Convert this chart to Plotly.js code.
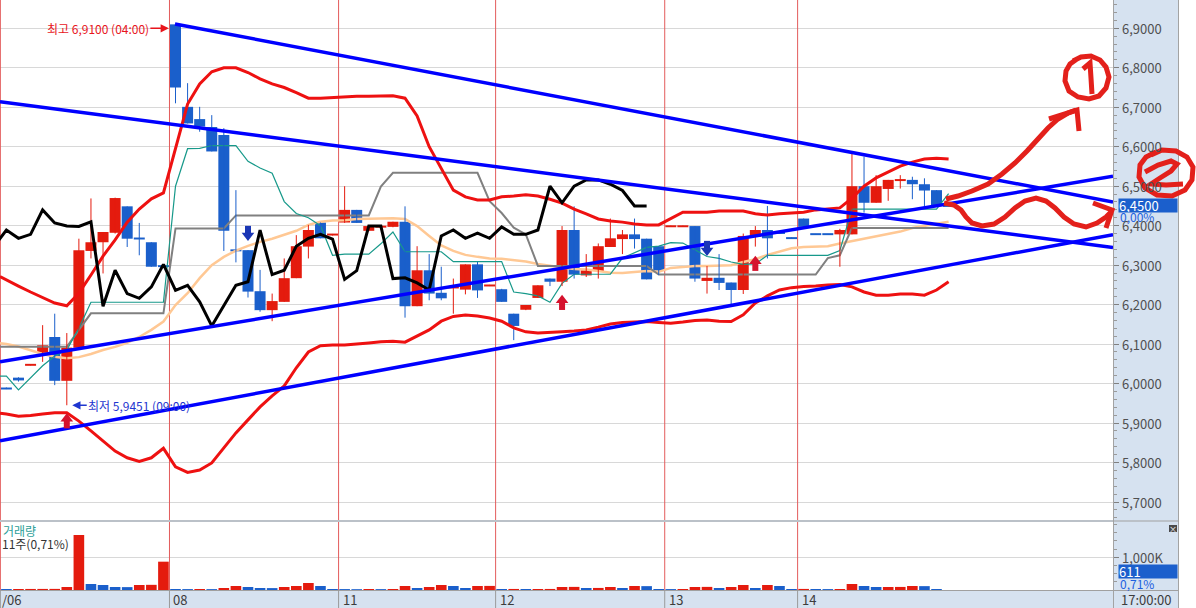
<!DOCTYPE html>
<html>
<head>
<meta charset="utf-8">
<script src="https://cdn.plot.ly/plotly-3.0.1.min.js"></script>
<style>
html,body{margin:0;padding:0;background:#ffffff;overflow:hidden;}
#chart{width:1196px;height:608px;}
</style>
</head>
<body>
<div id="chart"></div>
<script>
// ================= DATA =================
const openP  = [5.988,6.015,6.047,6.078,6.118,6.007,6.091,6.336,6.358,6.382,
                6.449,6.368,6.358,6.298,6.910,6.701,6.670,6.650,6.630,6.338,
                6.338,6.234,6.186,6.207,6.267,6.347,6.408,6.377,6.408,6.440,
                6.387,6.397,6.397,6.410,6.196,6.287,6.230,6.242,6.238,6.302,
                6.248,6.239,6.177,6.187,6.217,6.266,6.258,6.389,6.274,6.285,
                6.346,6.366,6.378,6.367,6.348,6.398,6.398,6.399,6.260,6.268,
                6.256,6.237,6.372,6.389,6.382,6.369,6.418,6.379,6.379,6.378,
                6.378,6.500,6.458,6.493,6.515,6.516,6.505,6.490,6.450];
const highP  = [5.990,6.016,6.049,6.148,6.177,6.128,6.367,6.469,6.384,6.471,
                6.449,6.407,6.358,6.299,6.910,6.761,6.701,6.680,6.647,6.490,
                6.338,6.288,6.228,6.317,6.376,6.402,6.408,6.379,6.500,6.440,
                6.400,6.399,6.410,6.449,6.348,6.328,6.296,6.266,6.302,6.308,
                6.250,6.240,6.177,6.199,6.249,6.266,6.399,6.449,6.328,6.355,
                6.418,6.389,6.418,6.367,6.348,6.400,6.400,6.399,6.298,6.328,
                6.256,6.380,6.399,6.450,6.383,6.370,6.418,6.379,6.379,6.392,
                6.587,6.575,6.528,6.516,6.528,6.524,6.520,6.490,6.451];
const lowP   = [5.986,6.005,6.046,6.055,5.996,5.9451,6.085,6.317,6.279,6.380,
                6.346,6.325,6.296,6.296,6.710,6.659,6.638,6.588,6.336,6.307,
                6.218,6.182,6.158,6.207,6.267,6.317,6.368,6.375,6.407,6.407,
                6.386,6.396,6.396,6.167,6.196,6.211,6.211,6.177,6.226,6.217,
                6.247,6.207,6.110,6.186,6.217,6.247,6.247,6.266,6.270,6.266,
                6.346,6.328,6.342,6.264,6.275,6.397,6.397,6.258,6.228,6.237,
                6.199,6.227,6.347,6.317,6.380,6.367,6.397,6.377,6.377,6.296,
                6.378,6.433,6.458,6.463,6.494,6.467,6.448,6.448,6.449];
const closeP = [5.987,6.008,6.048,6.097,6.007,6.091,6.338,6.358,6.384,6.470,
                6.367,6.367,6.296,6.297,6.750,6.659,6.651,6.588,6.387,6.337,
                6.233,6.186,6.209,6.267,6.348,6.389,6.368,6.378,6.440,6.407,
                6.399,6.398,6.410,6.196,6.287,6.228,6.216,6.245,6.302,6.236,
                6.249,6.207,6.146,6.199,6.249,6.258,6.389,6.276,6.287,6.348,
                6.368,6.378,6.366,6.264,6.286,6.399,6.399,6.266,6.268,6.255,
                6.237,6.374,6.389,6.368,6.381,6.368,6.397,6.378,6.378,6.389,
                6.500,6.458,6.500,6.516,6.516,6.505,6.489,6.450,6.450];
// volume, thousands
const volumeK = [30,31,32,33,34,92,1682,183,153,92,
                 88,153,158,866,31,28,30,27,61,122,
                 92,61,58,92,122,214,122,31,28,25,
                 30,27,31,122,61,92,153,122,61,122,
                 125,31,32,30,31,32,92,95,61,63,
                 92,61,122,118,31,28,31,92,95,61,
                 92,153,61,153,122,31,33,30,28,31,
                 183,122,92,92,94,122,118,30,0.611];

// indicator lines: first value = left edge of the chart, then one value per bar
const edgeX = -0.53;
const bbUpper = [6.271,
  6.262,6.247,6.232,6.219,6.204,6.197,6.229,6.275,6.323,6.364,
  6.409,6.442,6.468,6.483,6.592,6.708,6.759,6.790,6.800,6.800,
  6.788,6.772,6.759,6.750,6.737,6.723,6.723,6.725,6.727,6.728,
  6.728,6.729,6.729,6.723,6.678,6.600,6.546,6.490,6.473,6.465,
  6.465,6.473,6.475,6.478,6.475,6.467,6.457,6.442,6.430,6.417,
  6.412,6.409,6.404,6.402,6.402,6.419,6.434,6.434,6.434,6.437,
  6.437,6.437,6.430,6.427,6.430,6.432,6.434,6.440,6.442,6.445,
  6.470,6.500,6.521,6.536,6.551,6.561,6.569,6.571,6.569];
const bbLower = [5.925,
  5.923,5.917,5.919,5.923,5.926,5.926,5.905,5.880,5.855,5.829,
  5.812,5.803,5.812,5.836,5.789,5.775,5.781,5.799,5.837,5.875,
  5.908,5.941,5.969,5.994,6.040,6.080,6.096,6.098,6.098,6.100,
  6.103,6.106,6.107,6.105,6.120,6.136,6.158,6.170,6.174,6.171,
  6.166,6.158,6.141,6.131,6.128,6.129,6.131,6.133,6.136,6.143,
  6.151,6.155,6.156,6.157,6.155,6.153,6.156,6.160,6.161,6.158,
  6.157,6.174,6.204,6.222,6.237,6.243,6.246,6.247,6.250,6.251,
  6.245,6.232,6.224,6.224,6.227,6.227,6.224,6.237,6.258];
const ma20 = [6.102,
  6.100,6.094,6.085,6.075,6.068,6.064,6.067,6.075,6.085,6.093,
  6.103,6.118,6.136,6.157,6.199,6.229,6.267,6.300,6.321,6.337,
  6.349,6.359,6.367,6.378,6.387,6.402,6.410,6.413,6.414,6.417,
  6.418,6.419,6.419,6.417,6.399,6.374,6.350,6.336,6.326,6.321,
  6.317,6.316,6.313,6.309,6.303,6.298,6.294,6.290,6.289,6.285,
  6.281,6.280,6.283,6.285,6.283,6.293,6.295,6.298,6.298,6.299,
  6.300,6.308,6.315,6.326,6.335,6.343,6.346,6.347,6.348,6.355,
  6.361,6.366,6.373,6.379,6.385,6.394,6.400,6.405,6.410];
const baseLine = [6.093,
  6.093,6.093,6.093,6.093,6.093,6.093,6.136,6.178,6.178,6.178,
  6.178,6.178,6.178,6.178,6.393,6.393,6.393,6.393,6.393,6.426,
  6.426,6.426,6.426,6.426,6.426,6.426,6.426,6.426,6.426,6.426,
  6.426,6.499,6.534,6.534,6.534,6.534,6.534,6.534,6.534,6.534,
  6.462,6.432,6.395,6.378,6.298,6.298,6.298,6.298,6.298,6.298,
  6.298,6.298,6.298,6.298,6.276,6.276,6.276,6.276,6.276,6.276,
  6.276,6.276,6.276,6.276,6.276,6.276,6.276,6.276,6.318,6.325,
  6.394,6.394,6.394,6.394,6.394,6.394,6.394,6.394,6.394];
const convLine = [6.019,
  6.019,5.984,6.014,6.045,6.070,6.085,6.140,6.206,6.206,6.206,
  6.206,6.206,6.206,6.206,6.500,6.595,6.596,6.603,6.603,6.603,
  6.563,6.546,6.533,6.461,6.431,6.420,6.400,6.325,6.328,6.328,
  6.328,6.354,6.384,6.334,6.334,6.334,6.334,6.309,6.309,6.309,
  6.309,6.309,6.232,6.228,6.222,6.206,6.254,6.277,6.277,6.277,
  6.277,6.318,6.331,6.345,6.348,6.357,6.356,6.339,6.322,6.317,
  6.308,6.302,6.303,6.325,6.325,6.325,6.325,6.325,6.325,6.337,
  6.442,6.442,6.442,6.442,6.442,6.442,6.442,6.442,6.481];
// lagging span (closes plotted 25 bars back), starts at bar -1
const laggingStart = -1;
const laggingSpan = [6.348,6.389,6.368,6.378,6.440,6.407,6.399,6.398,6.410,6.196,
  6.287,6.228,6.216,6.245,6.302,6.236,6.249,6.207,6.146,6.199,
  6.249,6.258,6.389,6.276,6.287,6.348,6.368,6.378,6.366,6.264,
  6.286,6.399,6.399,6.266,6.268,6.255,6.237,6.374,6.389,6.368,
  6.381,6.368,6.397,6.378,6.378,6.389,6.500,6.458,6.500,6.516,
  6.516,6.505,6.489,6.450,6.450];

// user-drawn trend lines (bar index, price)
const trend1X = [13.96, 91.61], trend1Y = [6.911, 6.460];
const trend2X = [-0.53, 91.61], trend2Y = [6.714, 6.345];
const trend3X = [-0.53, 91.61], trend3Y = [6.055, 6.525];
const trend4X = [-0.53, 91.61], trend4Y = [5.855, 6.377];

// signal arrows
const signalBar = [5, 20, 46, 58, 62];
const signalDir = [1, -1, 1, -1, 1];
const signalTip = [5.927, 6.359, 6.227, 6.321, 6.326];

// day separators and labels
const dayBreaks = [-0.5, 13.5, 27.5, 40.5, 54.5, 65.5];
const dayLabels = ['/06', '08', '11', '12', '13', '14'];
const timeLabel = '17:00:00';

// axis ticks
const priceTicks = [5.7,5.8,5.9,6.0,6.1,6.2,6.3,6.4,6.5,6.6,6.7,6.8,6.9];
const priceTickText = ['5,7000','5,8000','5,9000','6,0000','6,1000','6,2000','6,3000',
                       '6,4000','6,5000','6,6000','6,7000','6,8000','6,9000'];
const priceMinorStep = 0.02;
const volTicks = [1000];
const volTickText = ['1,000K'];
const volMinorStep = 250;

const highText = '최고 6,9100 (04:00)';
const lowText = '최저 5,9451 (09:00)';
const volTitle = '거래량';
const volInfo = '11주(0,71%)';
const volLast = '611';
const volPct = '0,71%';

// hand-drawn red marks (picture pixels)
const stroke1 = [[946,199],[958,196],[972,191],[988,184],[1002,174],[1015,163],[1027,151],[1038,139],[1048,128],[1058,119],[1068,113],[1076,110]];
const stroke1Head = [[1049,119],[1077,110],[1079,131]];
const circle1 = [[1073,61],[1081,57],[1091,56],[1100,60],[1106,67],[1109,77],[1106,88],[1099,96],[1089,99],[1078,97],[1069,91],[1065,81],[1066,71],[1070,64],[1077,59]];
const digit1 = [[1083,69],[1090,63],[1091,78],[1092,94]];
const stroke2 = [[944,203],[954,205],[961,210],[966,217],[972,223],[982,226],[994,224],[1005,217],[1015,208],[1025,201],[1036,198],[1046,201],[1055,208],[1064,217],[1074,224],[1086,227],[1097,223],[1106,217],[1111,212]];
const stroke2Head = [[1093,203],[1112,210],[1106,228]];
const circle2 = [[1151,155],[1162,150],[1176,151],[1187,157],[1193,167],[1192,180],[1185,190],[1172,196],[1157,195],[1145,188],[1139,177],[1140,165],[1146,157],[1156,152]];
const digit2 = [[1145,172],[1158,165],[1171,161],[1177,164],[1171,171],[1160,178],[1151,184],[1166,185],[1183,184]];

// ================= DRAWING =================
const FONT = "'Noto Sans CJK KR', 'Noto Sans', sans-serif";
const RED = '#e41b0e', BLUE = '#1a5fcb';
const W = 1196, H = 608, PLOT_W = 1113, PLOT_H = 590;
const X0 = -0.53, X1 = 91.61;
const Y_LO = 5.6544, Y_HI = 6.97169, PANE_PX = 520;
const VOL_HI = 2079.5;
const pricePerPx = (Y_HI - Y_LO) / PANE_PX;
const PANEL = '#d6e2f0';

const bars = closeP.map((_, i) => i);
const lineX = [edgeX].concat(bars);
const lagX = laggingSpan.map((_, i) => i + laggingStart);

const traces = [];

// day separator lines in both panes
const dlX = [], dlY = [], dvY = [];
dayBreaks.forEach(b => { dlX.push(b, b, null); dlY.push(Y_LO, Y_HI, null); dvY.push(0, VOL_HI, null); });
traces.push({type:'scatter', mode:'lines', x:dlX, y:dlY, line:{color:'#e35b5b', width:1}, xaxis:'x', yaxis:'y', hoverinfo:'skip'});
traces.push({type:'scatter', mode:'lines', x:dlX, y:dvY, line:{color:'#e35b5b', width:1}, xaxis:'x', yaxis:'y2', hoverinfo:'skip'});

// indicator lines under candles
traces.push({type:'scatter', mode:'lines', x:lineX, y:ma20, line:{color:'#ffc894', width:2.5}, xaxis:'x', yaxis:'y'});
traces.push({type:'scatter', mode:'lines', x:lineX, y:baseLine, line:{color:'#808080', width:2}, xaxis:'x', yaxis:'y'});
traces.push({type:'scatter', mode:'lines', x:lineX, y:convLine, line:{color:'#17998a', width:1.2}, xaxis:'x', yaxis:'y'});

// candles
const up = bars.filter(i => closeP[i] > openP[i]);
const dn = bars.filter(i => closeP[i] <= openP[i]);
const MINBODY = 0.005;
function wick(ids, color) {
  const x = [], y = [];
  ids.forEach(i => { x.push(i, i, null); y.push(lowP[i], highP[i], null); });
  return {type:'scatter', mode:'lines', x, y, line:{color, width:1}, xaxis:'x', yaxis:'y', hoverinfo:'skip'};
}
function body(ids, color) {
  return {type:'bar', x:ids,
    base: ids.map(i => Math.abs(closeP[i]-openP[i]) < MINBODY ? (openP[i]+closeP[i])/2 - MINBODY/2 : Math.min(openP[i], closeP[i])),
    y: ids.map(i => Math.max(Math.abs(closeP[i]-openP[i]), MINBODY)),
    width:0.91, marker:{color, line:{width:0}}, xaxis:'x', yaxis:'y', hoverinfo:'skip'};
}
traces.push(wick(up, RED), wick(dn, BLUE), body(up, RED), body(dn, BLUE));

// bollinger bands, lagging span
traces.push({type:'scatter', mode:'lines', x:lineX, y:bbUpper, line:{color:'#ee1111', width:3}, xaxis:'x', yaxis:'y'});
traces.push({type:'scatter', mode:'lines', x:lineX, y:bbLower, line:{color:'#ee1111', width:3}, xaxis:'x', yaxis:'y'});
traces.push({type:'scatter', mode:'lines', x:lagX, y:laggingSpan, line:{color:'#000000', width:3}, xaxis:'x', yaxis:'y'});

// trend lines
[[trend1X,trend1Y],[trend2X,trend2Y],[trend3X,trend3Y],[trend4X,trend4Y]].forEach(t => {
  traces.push({type:'scatter', mode:'lines', x:t[0], y:t[1], line:{color:'#0000ff', width:3.5}, xaxis:'x', yaxis:'y'});
});

// signal arrows
signalBar.forEach((b, k) => {
  const d = signalDir[k], tip = signalTip[k];
  const col = d > 0 ? '#d5122d' : '#1a36b5';
  traces.push({type:'scatter', mode:'lines', x:[b, b], y:[tip - d*7*pricePerPx, tip - d*16*pricePerPx],
    line:{color:col, width:6}, xaxis:'x', yaxis:'y'});
  traces.push({type:'scatter', mode:'markers', x:[b], y:[tip - d*6.3*pricePerPx],
    marker:{symbol: d > 0 ? 'triangle-up' : 'triangle-down', size:11, color:col, line:{width:0}}, xaxis:'x', yaxis:'y'});
});

// volume
const volColors = volumeK.map((v, i) => (i > 0 && v >= volumeK[i-1]) ? RED : BLUE);
traces.push({type:'bar', x:bars, y:volumeK, width:0.88, marker:{color:volColors, line:{width:0}}, xaxis:'x', yaxis:'y2', hoverinfo:'skip'});

// minor tick positions (between labelled ticks)
function minorVals(lo, hi, step, majors) {
  const out = [];
  for (let k = 0; lo + k * step <= hi + 1e-9; k++) {
    const v = +(lo + k * step).toFixed(6);
    if (!majors.some(m => Math.abs(m - v) < step / 4)) out.push(v);
  }
  return out;
}
const priceMinor = minorVals(5.66, 6.96, priceMinorStep, priceTicks);
const volMinor = minorVals(0, 2000, volMinorStep, volTicks.concat([0]));

// ---------- layout helpers ----------
const px2x = px => px / PLOT_W;
const py2y = py => (PLOT_H - py) / PLOT_H;
const b2x = b => (b - X0) / (X1 - X0);
function toPath(pts) { return pts.map((p, k) => (k ? 'L' : 'M') + px2x(p[0]).toFixed(5) + ',' + py2y(p[1]).toFixed(5)).join(' '); }

const shapes = [];
shapes.push({type:'rect', xref:'paper', yref:'paper', x0:px2x(1178.5), x1:px2x(W+5), y0:py2y(H+5), y1:py2y(-5), fillcolor:'#ffffff', line:{width:0}, layer:'below'});
shapes.push({type:'line', xref:'paper', yref:'paper', x0:px2x(1178.5), x1:px2x(1178.5), y0:py2y(H), y1:py2y(0), line:{color:'#a3a3a3', width:1}, layer:'above'});
shapes.push({type:'line', xref:'paper', yref:'paper', x0:px2x(1113.5), x1:px2x(1113.5), y0:py2y(H), y1:py2y(0), line:{color:'#a3a3a3', width:1}, layer:'above'});
shapes.push({type:'line', xref:'paper', yref:'paper', x0:0, x1:px2x(1178.5), y0:py2y(521), y1:py2y(521), line:{color:'#a0a0a0', width:1}, layer:'above'});
shapes.push({type:'line', xref:'paper', yref:'paper', x0:0, x1:px2x(1178.5), y0:py2y(590.5), y1:py2y(590.5), line:{color:'#a0a0a0', width:1}, layer:'above'});
dayBreaks.forEach(b => {
  shapes.push({type:'line', xref:'paper', yref:'paper', x0:b2x(b), x1:b2x(b), y0:py2y(H), y1:py2y(590), line:{color:'#9a9a9a', width:1}, layer:'above'});
});
shapes.push({type:'rect', xref:'paper', yref:'paper', x0:px2x(1169), x1:px2x(1177), y0:py2y(532), y1:py2y(525), fillcolor:'#4a4a4a', line:{width:0}, layer:'above'});
const RED_PEN = {color:'#e3201b', width:5};
[stroke1, stroke1Head, circle1, digit1, stroke2, stroke2Head, circle2, digit2].forEach(s => {
  shapes.push({type:'path', xref:'paper', yref:'paper', path:toPath(s), line:RED_PEN, layer:'above'});
});

const annotations = [];
const tickFont = {family:FONT, size:13, color:'#505050'};
const last = closeP[closeP.length-1], prev = closeP[closeP.length-2];
const lastText = last.toFixed(4).replace('.', ',');
const pctText = ((last - prev) / prev * 100).toFixed(2).replace('.', ',') + '%';
// change label first, so the tick label below stays visible
annotations.push({xref:'paper', yref:'y', x:px2x(1118), y:last, yshift:-11, xanchor:'left', yanchor:'middle', text:pctText, showarrow:false,
  font:{family:FONT, size:12, color:'#2060e0'}});
// axis tick labels (drawn as text on the right panel)
priceTicks.forEach((v, k) => {
  annotations.push({xref:'paper', yref:'y', x:px2x(1120), y:v, xanchor:'left', yanchor:'middle', text:priceTickText[k],
    showarrow:false, font:tickFont});
});
volTicks.forEach((v, k) => {
  annotations.push({xref:'paper', yref:'y2', x:px2x(1120), y:v, xanchor:'left', yanchor:'middle', text:volTickText[k],
    showarrow:false, font:tickFont});
});
annotations.push({xref:'x', yref:'y', x:13.45, y:6.9, text:highText, showarrow:true, arrowhead:2, arrowsize:1.1, arrowwidth:1.5,
  arrowcolor:'#e8141c', ax:-71, ay:0, font:{family:FONT, size:12, color:'#e8141c'}});
annotations.push({xref:'x', yref:'y', x:5.45, y:lowP[5], text:lowText, showarrow:true, arrowhead:2, arrowsize:1.1, arrowwidth:1.5,
  arrowcolor:'#1f36d0', ax:67, ay:0, font:{family:FONT, size:12, color:'#1f36d0'}});
dayBreaks.forEach((b, k) => {
  annotations.push({xref:'paper', yref:'paper', x:b2x(b), y:py2y(599.5), xanchor:'left', yanchor:'middle', xshift: k === 0 ? 0 : 2,
    text:dayLabels[k], showarrow:false, font:{family:FONT, size:13, color:'#3c3c3c'}});
});
annotations.push({xref:'paper', yref:'paper', x:px2x(1119), y:py2y(599.5), xanchor:'left', yanchor:'middle', text:timeLabel, showarrow:false,
  font:{family:FONT, size:13, color:'#3c3c3c'}});
annotations.push({xref:'paper', yref:'paper', x:px2x(1), y:py2y(530.5), xanchor:'left', yanchor:'middle', text:volTitle, showarrow:false,
  font:{family:FONT, size:12, color:'#2b9e98'}});
annotations.push({xref:'paper', yref:'paper', x:0, y:py2y(543.5), xanchor:'left', yanchor:'middle', text:volInfo, showarrow:false,
  font:{family:FONT, size:12, color:'#333333'}});
annotations.push({xref:'paper', yref:'y', x:px2x(1118), y:last, xanchor:'left', yanchor:'middle', text:lastText, showarrow:false,
  bgcolor:'#1b5fcc', width:58, height:13, align:'left', borderpad:0, font:{family:FONT, size:13, color:'#ffffff'}});
annotations.push({xref:'paper', yref:'paper', x:px2x(1118), y:py2y(571.5), xanchor:'left', yanchor:'middle', text:volLast, showarrow:false,
  bgcolor:'#1b5fcc', width:58, height:13, align:'left', borderpad:0, font:{family:FONT, size:13, color:'#ffffff'}});
annotations.push({xref:'paper', yref:'paper', x:px2x(1118), y:py2y(583), xanchor:'left', yanchor:'middle', text:volPct, showarrow:false,
  font:{family:FONT, size:12, color:'#2060e0'}});
annotations.push({xref:'paper', yref:'paper', x:px2x(1173), y:py2y(528.5), xanchor:'center', yanchor:'middle', text:'×', showarrow:false,
  font:{family:FONT, size:8, color:'#ffffff'}});

const layout = {
  width: W, height: H,
  margin: {l:0, r:W-PLOT_W, t:0, b:H-PLOT_H, pad:0},
  paper_bgcolor: PANEL, plot_bgcolor: '#ffffff',
  showlegend: false, hovermode: false, barmode: 'overlay',
  font: {family: FONT},
  xaxis: {range:[X0, X1], showgrid:false, zeroline:false, showticklabels:false, ticks:'', showline:false, anchor:'y2', fixedrange:true},
  yaxis: {domain:[(PLOT_H-PANE_PX)/PLOT_H, 1], range:[Y_LO, Y_HI], side:'right', anchor:'x',
    tickmode:'array', tickvals:priceTicks, ticktext:priceTickText, showticklabels:false,
    showgrid:true, gridcolor:'#d8d8d8', gridwidth:1, zeroline:false, showline:false,
    ticks:'outside', ticklen:5, tickcolor:'#808080',
    minor:{tickmode:'array', tickvals:priceMinor, ticks:'outside', ticklen:3, tickcolor:'#9a9a9a', showgrid:false}},
  yaxis2: {domain:[0, (PLOT_H-522)/PLOT_H], range:[0, VOL_HI], side:'right', anchor:'x',
    tickmode:'array', tickvals:volTicks, ticktext:volTickText, showticklabels:false,
    showgrid:true, gridcolor:'#d8d8d8', gridwidth:1, zeroline:false, showline:false,
    ticks:'outside', ticklen:5, tickcolor:'#808080',
    minor:{tickmode:'array', tickvals:volMinor, ticks:'outside', ticklen:3, tickcolor:'#9a9a9a', showgrid:false}},
  shapes, annotations
};
Plotly.newPlot('chart', traces, layout, {staticPlot:true, displayModeBar:false});
</script>
</body>
</html>
